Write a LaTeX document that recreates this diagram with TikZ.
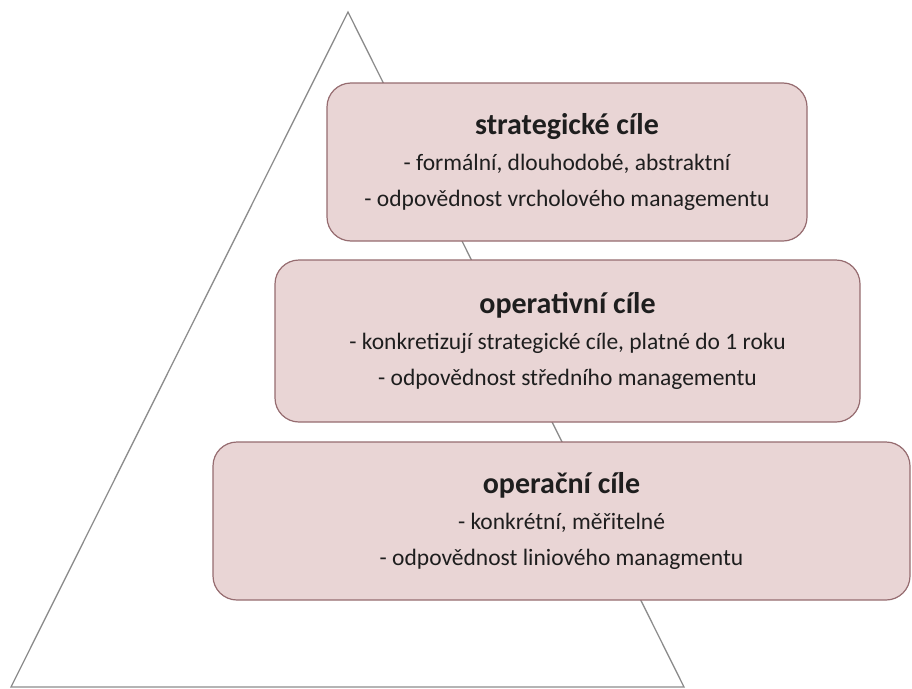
\documentclass[tikz,border=0pt]{standalone}
\usepackage{fontspec}
\setmainfont{Carlito}
\definecolor{boxfill}{RGB}{233,213,213}
\definecolor{boxdraw}{RGB}{150,108,112}
\definecolor{tri}{RGB}{140,140,140}
\definecolor{txt}{RGB}{30,30,30}
\begin{document}
\begin{tikzpicture}[x=1pt,y=-1pt,
  goal/.style={draw=boxdraw, line width=1.2pt, fill=boxfill, rounded corners=24pt,
    align=center, text=txt, font=\fontsize{23.5}{36}\selectfont, inner sep=0pt}]
\useasboundingbox (0,0) rectangle (912,688);
\fill[white] (0,0) rectangle (912,688);
\coordinate (apex) at (348,12);
\coordinate (bl) at (11,687);
\coordinate (br) at (684,687);
\draw[tri, line width=1.3pt] (apex) -- (bl) -- (br) -- cycle;
\node[goal, minimum width=480pt, minimum height=158pt] (s) at (567,162)
  {{\fontsize{30}{37}\selectfont\bfseries strategické cíle}\\
   - formální, dlouhodobé, abstraktní\\
   - odpovědnost vrcholového managementu};
\node[goal, minimum width=585pt, minimum height=162pt] (o) at (567.5,341)
  {{\fontsize{30}{37}\selectfont\bfseries operativní cíle}\\
   - konkretizují strategické cíle, platné do 1 roku\\
   - odpovědnost středního managementu};
\node[goal, minimum width=697pt, minimum height=158pt] (p) at (561.5,521)
  {{\fontsize{30}{37}\selectfont\bfseries operační cíle}\\
   - konkrétní, měřitelné\\
   - odpovědnost liniového managmentu};
\end{tikzpicture}
\end{document}
